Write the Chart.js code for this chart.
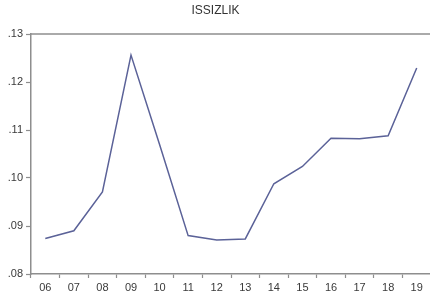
<!DOCTYPE html>
<html>
<head>
<meta charset="utf-8">
<script src="https://cdn.jsdelivr.net/npm/chart.js@4"></script>
<style>
html, body { margin: 0; padding: 0; background: #fff; overflow: hidden; }
#wrap { width: 462px; height: 300px; position: relative; }
</style>
</head>
<body>
<div id="wrap"><canvas id="c"></canvas></div>
<script>
const titleText = 'ISSIZLIK';
const years = ['06','07','08','09','10','11','12','13','14','15','16','17','18','19'];
const issizlik = [0.0874, 0.0890, 0.0971, 0.1256, 0.1070, 0.0880, 0.0871, 0.0873, 0.0988, 0.1024, 0.1083, 0.1082, 0.1088, 0.1229];
const yMin = 0.08, yMax = 0.13, yStep = 0.01;

const frameColor = '#8e8e8e';
const textColor = '#3a3a3a';
const font = { family: '"Liberation Sans", Arial, sans-serif', size: 11 };

const topBorder = {
  id: 'topBorder',
  afterDraw(chart) {
    const { ctx, chartArea } = chart;
    ctx.save();
    ctx.strokeStyle = frameColor;
    ctx.lineWidth = 1.5;
    ctx.beginPath();
    ctx.moveTo(chartArea.left, chartArea.top);
    ctx.lineTo(chartArea.right, chartArea.top);
    ctx.lineTo(chartArea.right, chartArea.bottom);
    ctx.stroke();
    ctx.restore();
  }
};

new Chart(document.getElementById('c'), {
  type: 'line',
  data: {
    labels: years,
    datasets: [{
      data: issizlik,
      borderColor: '#5b6298',
      borderWidth: 1.5,
      pointRadius: 0,
      tension: 0,
      fill: false
    }]
  },
  options: {
    responsive: true,
    maintainAspectRatio: false,
    animation: false,
    layout: { padding: { left: 0, right: 31, top: 0, bottom: 0 } },
    plugins: {
      legend: { display: false },
      tooltip: { enabled: false },
      title: {
        display: true,
        text: titleText,
        color: '#333',
        font: { family: font.family, size: 12, weight: 'normal' },
        padding: { top: 3, bottom: 16.6 }
      }
    },
    scales: {
      x: {
        type: 'category',
        offset: true,
        afterFit(s) { s.height = 26; },
        grid: {
          offset: true,
          drawOnChartArea: false,
          drawTicks: true,
          tickLength: 4,
          tickColor: frameColor,
          tickWidth: 1.2
        },
        border: { display: true, color: frameColor, width: 1.5 },
        ticks: { color: textColor, font: font, padding: 3, maxRotation: 0, autoSkip: false }
      },
      y: {
        min: yMin,
        max: yMax,
        afterFit(s) { s.width = 31; },
        grid: {
          drawOnChartArea: false,
          drawTicks: true,
          tickLength: 5,
          tickColor: frameColor,
          tickWidth: 1.2
        },
        border: { display: true, color: frameColor, width: 1.5 },
        ticks: {
          stepSize: yStep,
          color: textColor,
          font: font,
          padding: 3,
          callback: v => v.toFixed(2).replace(/^0/, '')
        }
      }
    }
  },
  plugins: [topBorder]
});
</script>
</body>
</html>
